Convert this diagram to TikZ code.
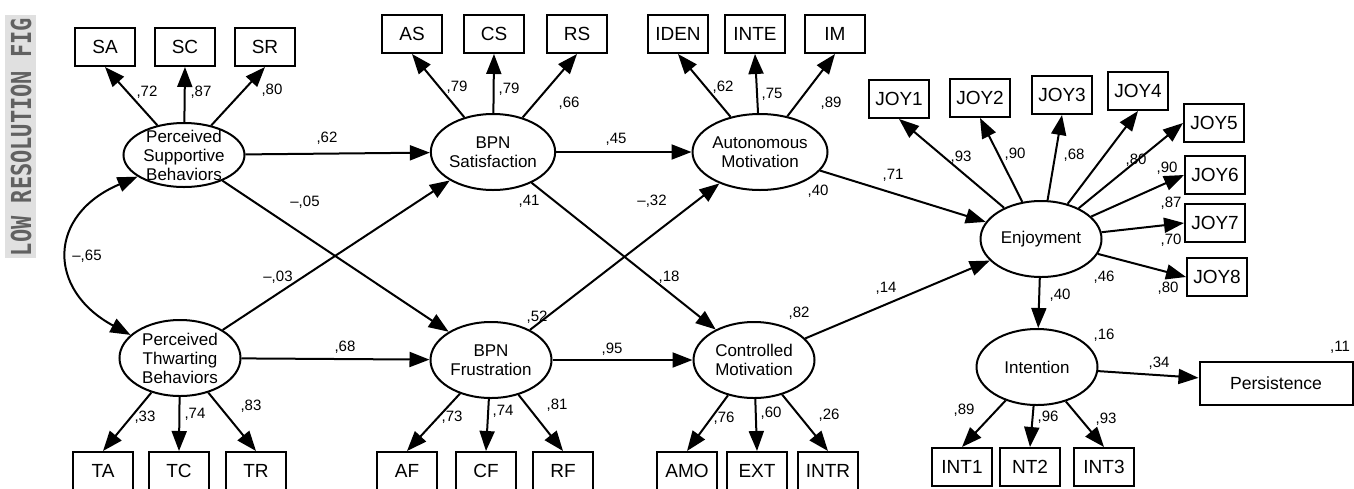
\documentclass[tikz,border=0pt]{standalone}
\usepackage{fontspec}
\setmainfont{Liberation Sans}
\newfontfamily\markfont{DejaVu Sans Mono}
\usetikzlibrary{arrows.meta,shapes.geometric}
\tikzset{
    indicator/.style={draw, line width=1pt, minimum width=30pt, minimum height=19pt, inner sep=0pt, font=\fontsize{9.5}{10}\selectfont},
    latent/.style={draw, ellipse, line width=1pt, minimum width=60.5pt, minimum height=38pt, inner sep=0pt, align=center, font=\fontsize{8.5}{9.5}\selectfont},
    coef/.style={inner sep=0pt, font=\fontsize{7.5}{8}\selectfont},
    effect/.style={line width=1pt, -{Triangle[length=10pt,width=7.5pt]}},
    covary/.style={line width=1pt, {Triangle[length=10pt,width=7.5pt]}-{Triangle[length=10pt,width=7.5pt]}}
}
\begin{document}
\begin{tikzpicture}[x=0.5pt,y=-0.5pt]
    \useasboundingbox (0,0) rectangle (1354,488);
    \fill[black!12] (5,15) rectangle (36,258);
    \node[rotate=90, text=black!62, font=\markfont\bfseries\fontsize{11}{12}\selectfont] (mark) at (21,137) {\scalebox{1}[1.25]{LOW RESOLUTION FIG}};

    \node[latent, minimum height=32pt, inner ysep=-1.5pt] (ps) at (184,155) {Perceived\\Supportive\\Behaviors};
    \node[latent] (pt) at (180,358) {Perceived\\Thwarting\\Behaviors};
    \node[latent] (bs) at (493,152) {BPN\\Satisfaction};
    \node[latent] (bf) at (491,360) {BPN\\Frustration};
    \node[latent] (am) at (760,152) {Autonomous\\Motivation};
    \node[latent] (cm) at (754,360) {Controlled\\Motivation};
    \node[latent] (en) at (1041,239) {Enjoyment};
    \node[latent] (in) at (1037,367) {Intention};
    \node[indicator, minimum width=76.5pt, minimum height=21.5pt, font=\fontsize{8.8}{10}\selectfont] (pers) at (1276,383) {Persistence};

    \node[indicator] (sa) at (105,47) {SA};
    \node[indicator] (sc) at (185,47) {SC};
    \node[indicator] (sr) at (265,47) {SR};
    \node[indicator] (as) at (412,34) {AS};
    \node[indicator] (cs) at (494,34) {CS};
    \node[indicator] (rs) at (577,34) {RS};
    \node[indicator] (iden) at (678,34) {IDEN};
    \node[indicator] (inte) at (755,34) {INTE};
    \node[indicator] (im) at (835,34) {IM};
    \node[indicator] (joy1) at (899,99) {JOY1};
    \node[indicator] (joy2) at (980,98) {JOY2};
    \node[indicator] (joy3) at (1062,95) {JOY3};
    \node[indicator] (joy4) at (1138,91) {JOY4};
    \node[indicator] (joy5) at (1214,123) {JOY5};
    \node[indicator] (joy6) at (1215,175) {JOY6};
    \node[indicator] (joy7) at (1215,223) {JOY7};
    \node[indicator] (joy8) at (1217,277) {JOY8};

    \node[indicator] (ta) at (103,471) {TA};
    \node[indicator] (tc) at (179,471) {TC};
    \node[indicator] (tr) at (256,471) {TR};
    \node[indicator] (af) at (407,471) {AF};
    \node[indicator] (cf) at (486,471) {CF};
    \node[indicator] (rf) at (563,471) {RF};
    \node[indicator] (amo) at (687,471) {AMO};
    \node[indicator] (ext) at (757,471) {EXT};
    \node[indicator] (intr) at (828,471) {INTR};
    \node[indicator] (int1) at (962,467) {INT1};
    \node[indicator] (nt2) at (1030,467) {NT2};
    \node[indicator] (int3) at (1104,467) {INT3};

    \draw[effect] (ps) -- (sa.south);
    \draw[effect] (ps) -- (sc.south);
    \draw[effect] (ps) -- (sr.south);
    \draw[effect] (pt) -- (ta.north);
    \draw[effect] (pt) -- (tc.north);
    \draw[effect] (pt) -- (tr.north);
    \draw[effect] (bs) -- (as.south);
    \draw[effect] (bs) -- (cs.south);
    \draw[effect] (bs) -- (rs.south);
    \draw[effect] (bf) -- (af.north);
    \draw[effect] (bf) -- (cf.north);
    \draw[effect] (bf) -- (rf.north);
    \draw[effect] (am) -- (iden.south);
    \draw[effect] (am) -- (inte.south);
    \draw[effect] (am) -- (im.south);
    \draw[effect] (cm) -- (amo.north);
    \draw[effect] (cm) -- (ext.north);
    \draw[effect] (cm) -- (intr.north);
    \draw[effect] (en) -- (joy1.south);
    \draw[effect] (en) -- (joy2.south);
    \draw[effect] (en) -- (joy3.south);
    \draw[effect] (en) -- (joy4.south);
    \draw[effect] (en) -- (joy5.west);
    \draw[effect] (en) -- (joy6.west);
    \draw[effect] (en) -- (joy7.west);
    \draw[effect] (en) -- (joy8.west);
    \draw[effect] (in) -- (int1.north);
    \draw[effect] (in) -- (nt2.north);
    \draw[effect] (in) -- (int3.north);

    \draw[effect] (ps) -- (bs);
    \draw[effect] (ps) -- (bf);
    \draw[effect] (pt) -- (bs);
    \draw[effect] (pt) -- (bf);
    \draw[effect] (bs) -- (am);
    \draw[effect] (bs) -- (cm);
    \draw[effect] (bf) -- (am);
    \draw[effect] (bf) -- (cm);
    \draw[effect] (am) -- (en);
    \draw[effect] (cm) -- (en);
    \draw[effect] (en) -- (in);
    \draw[effect] (in) -- (pers);
    \draw[covary] (ps.205) .. controls (47,215) and (47,290) .. (pt.155);

    \node[coef] (ps-sa) at (147,92) {,72};
    \node[coef] (ps-sc) at (201,92) {,87};
    \node[coef] (ps-sr) at (272,90) {,80};
    \node[coef] (ps-bs) at (327,138) {,62};
    \node[coef] (ps-bf) at (305,202) {--,05};
    \node[coef] (ps-pt) at (87,256) {--,65};
    \node[coef] (pt-bs) at (278,277) {--,03};
    \node[coef] (pt-bf) at (345,347) {,68};
    \node[coef] (pt-ta) at (145,417) {,33};
    \node[coef] (pt-tc) at (195,414) {,74};
    \node[coef] (pt-tr) at (251,406) {,83};
    \node[coef] (bs-as) at (457,87) {,79};
    \node[coef] (bs-cs) at (509,89) {,79};
    \node[coef] (bs-rs) at (569,103) {,66};
    \node[coef] (bs-am) at (616,139) {,45};
    \node[coef] (bs-r2) at (529,201) {,41};
    \node[coef] (bf-am) at (652,201) {--,32};
    \node[coef] (bs-cm) at (669,277) {,18};
    \node[coef] (bf-r2) at (537,317) {,52};
    \node[coef] (bf-cm) at (612,349) {,95};
    \node[coef] (bf-af) at (452,417) {,73};
    \node[coef] (bf-cf) at (503,411) {,74};
    \node[coef] (bf-rf) at (557,405) {,81};
    \node[coef] (am-iden) at (723,87) {,62};
    \node[coef] (am-inte) at (772,94) {,75};
    \node[coef] (am-im) at (831,103) {,89};
    \node[coef] (am-en) at (893,175) {,71};
    \node[coef] (am-r2) at (818,191) {,40};
    \node[coef] (cm-r2) at (799,313) {,82};
    \node[coef] (cm-en) at (886,288) {,14};
    \node[coef] (cm-amo) at (724,418) {,76};
    \node[coef] (cm-ext) at (771,413) {,60};
    \node[coef] (cm-intr) at (829,415) {,26};
    \node[coef] (en-joy1) at (961,157) {,93};
    \node[coef] (en-joy2) at (1015,154) {,90};
    \node[coef] (en-joy3) at (1074,155) {,68};
    \node[coef] (en-joy4) at (1136,160) {,80};
    \node[coef] (en-joy5) at (1167,168) {,90};
    \node[coef] (en-joy6) at (1171,203) {,87};
    \node[coef] (en-joy7) at (1171,240) {,70};
    \node[coef] (en-joy8) at (1168,288) {,80};
    \node[coef] (en-r2) at (1104,277) {,46};
    \node[coef] (en-in) at (1060,295) {,40};
    \node[coef] (in-r2) at (1104,335) {,16};
    \node[coef] (in-pers) at (1159,363) {,34};
    \node[coef] (pers-r2) at (1340,347) {,11};
    \node[coef] (in-int1) at (964,410) {,89};
    \node[coef] (in-nt2) at (1048,417) {,96};
    \node[coef] (in-int3) at (1106,419) {,93};
\end{tikzpicture}
\end{document}
